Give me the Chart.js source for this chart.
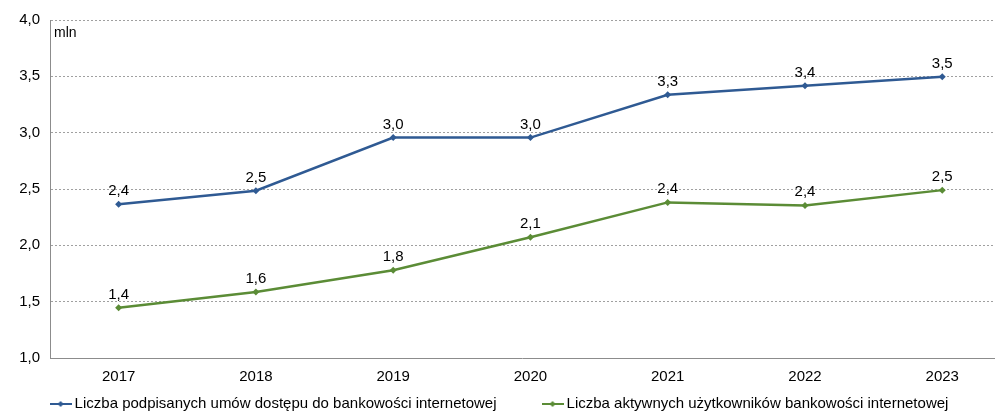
<!DOCTYPE html>
<html>
<head>
<meta charset="utf-8">
<script src="https://cdn.jsdelivr.net/npm/chart.js@4"></script>
<style>
  html, body { margin: 0; padding: 0; background: #fff; }
  #wrap { width: 998px; height: 412px; }
</style>
</head>
<body>
<div id="wrap"><canvas id="chart" width="998" height="412"></canvas></div>
<script>
const years = [2017, 2018, 2019, 2020, 2021, 2022, 2023];
const contracts = [2.364, 2.485, 2.956, 2.956, 3.336, 3.416, 3.496];
const activeUsers = [1.447, 1.585, 1.779, 2.071, 2.381, 2.354, 2.49];
const yTicks = [1.0, 1.5, 2.0, 2.5, 3.0, 3.5, 4.0];
const seriesNames = [
  'Liczba podpisanych umów dostępu do bankowości internetowej',
  'Liczba aktywnych użytkowników bankowości internetowej'
];
const unitLabel = 'mln';

const BLUE = '#2f5a93';
const GREEN = '#5b8c36';
const FONT = '"Liberation Sans", Arial, sans-serif';
const FS = 15;

const fmt = v => v.toFixed(1).replace('.', ',');

function legendMarker(color) {
  const c = document.createElement('canvas');
  c.width = 22; c.height = 8;
  const g = c.getContext('2d');
  g.strokeStyle = color; g.lineWidth = 2;
  g.beginPath(); g.moveTo(0, 4); g.lineTo(22, 4); g.stroke();
  g.fillStyle = color;
  g.beginPath(); g.moveTo(11, 1); g.lineTo(14, 4); g.lineTo(11, 7); g.lineTo(8, 4); g.closePath(); g.fill();
  return c;
}

// value labels above points, the "mln" unit, and the legend at the bottom
const extras = {
  id: 'extras',
  afterDatasetsDraw(chart) {
    const ctx = chart.ctx;
    ctx.save();
    ctx.font = FS + 'px ' + FONT;
    ctx.fillStyle = '#000';
    ctx.textAlign = 'center';
    ctx.textBaseline = 'alphabetic';
    chart.data.datasets.forEach((ds, i) => {
      chart.getDatasetMeta(i).data.forEach((p, j) => {
        ctx.fillText(fmt(ds.data[j].y), p.x, p.y - 9);
      });
    });
    ctx.textAlign = 'left';
    ctx.textBaseline = 'middle';
    ctx.font = '14px ' + FONT;
    ctx.fillText(unitLabel, chart.chartArea.left + 4, chart.chartArea.top + 13);

    // legend
    ctx.font = FS + 'px ' + FONT;
    const gap = 45, markW = 22, textGap = 3;
    const widths = chart.data.datasets.map(ds => markW + textGap + ctx.measureText(ds.label).width);
    const total = widths.reduce((a, b) => a + b, 0) + gap * (widths.length - 1);
    let x = (chart.width - total) / 2;
    const y = 404;
    chart.data.datasets.forEach((ds, i) => {
      ctx.drawImage(legendMarker(ds.borderColor), x, y - 4);
      ctx.fillText(ds.label, x + markW + textGap, y);
      x += widths[i] + gap;
    });
    ctx.restore();
  }
};

const toPoints = arr => arr.map((v, i) => ({ x: years[i], y: v }));

new Chart(document.getElementById('chart'), {
  type: 'line',
  data: {
    datasets: [
      {
        label: seriesNames[0],
        data: toPoints(contracts),
        borderColor: BLUE,
        backgroundColor: BLUE,
        borderWidth: 2.5,
        pointStyle: 'rectRot',
        pointRadius: 3.5,
        pointBorderWidth: 0,
        tension: 0
      },
      {
        label: seriesNames[1],
        data: toPoints(activeUsers),
        borderColor: GREEN,
        backgroundColor: GREEN,
        borderWidth: 2.5,
        pointStyle: 'rectRot',
        pointRadius: 3.5,
        pointBorderWidth: 0,
        tension: 0
      }
    ]
  },
  options: {
    responsive: false,
    animation: false,
    devicePixelRatio: 1,
    layout: { padding: { top: 20, right: 0, left: 0, bottom: 24 } },
    plugins: {
      legend: { display: false },
      tooltip: { enabled: false }
    },
    scales: {
      x: {
        type: 'linear',
        min: 2016.5,
        max: 2023.377,
        afterBuildTicks: s => { s.ticks = years.map(v => ({ value: v })); },
        afterFit: s => { s.height = 30; },
        grid: { display: false, drawTicks: false },
        border: { display: true, color: '#8c8c8c', width: 1 },
        ticks: {
          padding: 10,
          color: '#000',
          font: { family: FONT, size: FS },
          maxRotation: 0,
          callback: v => String(v)
        }
      },
      y: {
        min: 1,
        max: 4,
        afterBuildTicks: s => { s.ticks = yTicks.map(v => ({ value: v })); },
        afterFit: s => { s.width = 50; },
        grid: {
          color: '#a0a0a0',
          lineWidth: 1,
          drawTicks: false
        },
        border: { display: true, color: '#8c8c8c', width: 1, dash: [2, 2] },
        ticks: {
          padding: 10,
          color: '#000',
          font: { family: FONT, size: FS },
          callback: v => fmt(v)
        }
      }
    }
  },
  plugins: [extras]
});
</script>
</body>
</html>
